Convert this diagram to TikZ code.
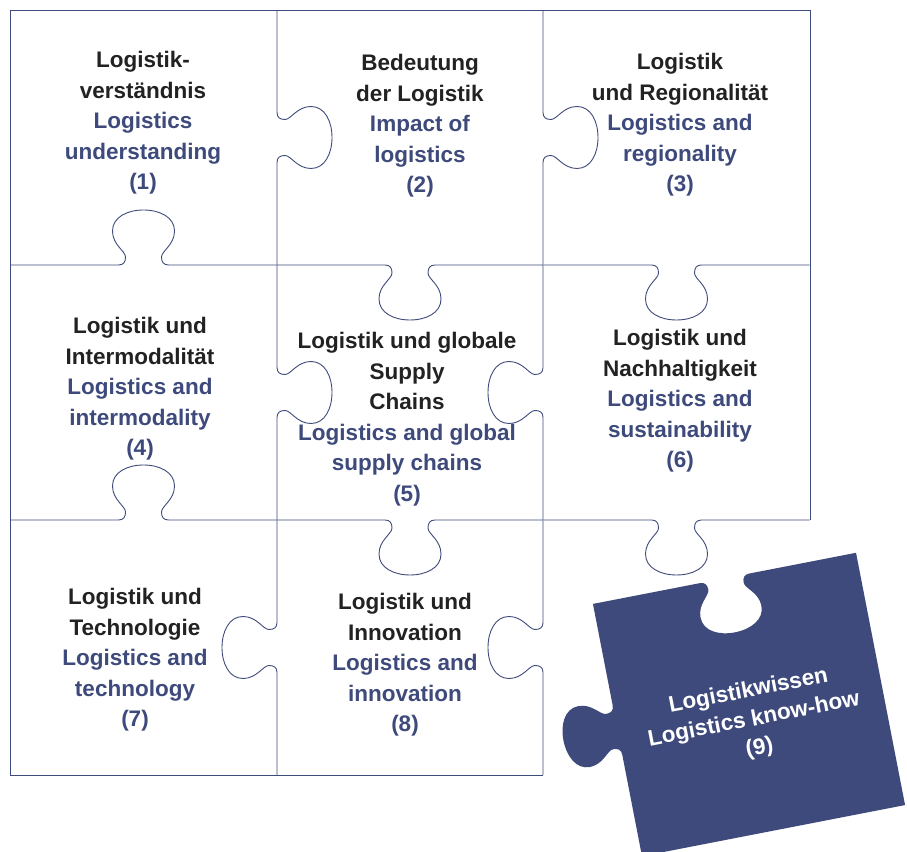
\documentclass[tikz,border=0pt]{standalone}
\usepackage{fontspec}
\setmainfont{Liberation Sans}
\definecolor{puzzleblue}{HTML}{3E4A7B}
\definecolor{darktext}{HTML}{222222}
\newcommand{\engtext}[1]{\textcolor{puzzleblue}{#1}}

\tikzset{
  pieceline/.style={draw=puzzleblue, line width=0.9pt},
  piecetext/.style={align=center, inner sep=0pt, text=darktext,
    font=\bfseries\fontsize{22.5}{30.5}\selectfont},
  pics/knob/.style={code={
    \draw[pieceline] (-#1,0) -- (-25,0)
      .. controls (-20,0) and (-18,3) .. (-18,8)
      .. controls (-18,14) and (-31,20) .. (-31,34)
      .. controls (-31,48) and (-16,55) .. (0,55)
      .. controls (16,55) and (31,48) .. (31,34)
      .. controls (31,20) and (18,14) .. (18,8)
      .. controls (18,3) and (20,0) .. (25,0) -- (#1,0);
  }}
}

\begin{document}
\begin{tikzpicture}[x=1pt, y=1pt]
\useasboundingbox (0,0) rectangle (907,851);

% outer border of the eight placed pieces
\draw[pieceline] (543,76) -- (10,76) -- (10,841) -- (810,841) -- (810,331);

% inner edges with knobs
\foreach \px/\py/\ang/\len in {
    143.5/586/0/133, 410/586/180/133, 676.5/586/180/133,
    143.5/331/0/133, 410/331/180/133, 676.5/331/180/133,
    277/713.5/-90/127.5, 543/713.5/-90/127.5,
    277/458.5/-90/127.5, 543/458.5/90/127.5,
    277/203.5/90/127.5, 543/203.5/90/127.5}
  \pic[rotate=\ang] at (\px,\py) {knob=\len};

% labels
\node[piecetext] (p1) at (143,728) {Logistik-\\verständnis\\\engtext{Logistics}\\\engtext{understanding}\\\engtext{(1)}};
\node[piecetext] (p2) at (420,725) {Bedeutung\\der Logistik\\\engtext{Impact of}\\\engtext{logistics}\\\engtext{(2)}};
\node[piecetext] (p3) at (680,726) {Logistik\\und Regionalität\\\engtext{Logistics and}\\\engtext{regionality}\\\engtext{(3)}};
\node[piecetext] (p4) at (140,462) {Logistik und\\Intermodalität\\\engtext{Logistics and}\\\engtext{intermodality}\\\engtext{(4)}};
\node[piecetext] (p5) at (407,432) {Logistik und globale\\Supply\\Chains\\\engtext{Logistics and global}\\\engtext{supply chains}\\\engtext{(5)}};
\node[piecetext] (p6) at (680,450) {Logistik und\\Nachhaltigkeit\\\engtext{Logistics and}\\\engtext{sustainability}\\\engtext{(6)}};
\node[piecetext] (p7) at (135,191) {Logistik und\\Technologie\\\engtext{Logistics and}\\\engtext{technology}\\\engtext{(7)}};
\node[piecetext] (p8) at (405,186) {Logistik und\\Innovation\\\engtext{Logistics and}\\\engtext{innovation}\\\engtext{(8)}};

% the loose piece
\begin{scope}[shift={(749,146.5)}, rotate=11]
  \fill[puzzleblue] (-134,128.5) -- (-25,128.5)
    .. controls (-20,128.5) and (-18,125.5) .. (-18,120.5)
    .. controls (-18,114.5) and (-31,108.5) .. (-31,94.5)
    .. controls (-31,80.5) and (-16,73.5) .. (0,73.5)
    .. controls (16,73.5) and (31,80.5) .. (31,94.5)
    .. controls (31,108.5) and (18,114.5) .. (18,120.5)
    .. controls (18,125.5) and (20,128.5) .. (25,128.5)
    -- (134,128.5) -- (134,-128.5) -- (-134,-128.5) -- (-134,-25)
    .. controls (-134,-20) and (-137,-18) .. (-142,-18)
    .. controls (-148,-18) and (-154,-31) .. (-168,-31)
    .. controls (-182,-31) and (-189,-16) .. (-189,0)
    .. controls (-189,16) and (-182,31) .. (-168,31)
    .. controls (-154,31) and (-148,18) .. (-142,18)
    .. controls (-137,18) and (-134,20) .. (-134,25)
    -- cycle;
  \node[piecetext, text=white, transform shape,
    font=\bfseries\fontsize{22.5}{29}\selectfont] (p9) at (2,-16)
    {Logistikwissen\\Logistics know-how\\(9)};
\end{scope}
\end{tikzpicture}
\end{document}
